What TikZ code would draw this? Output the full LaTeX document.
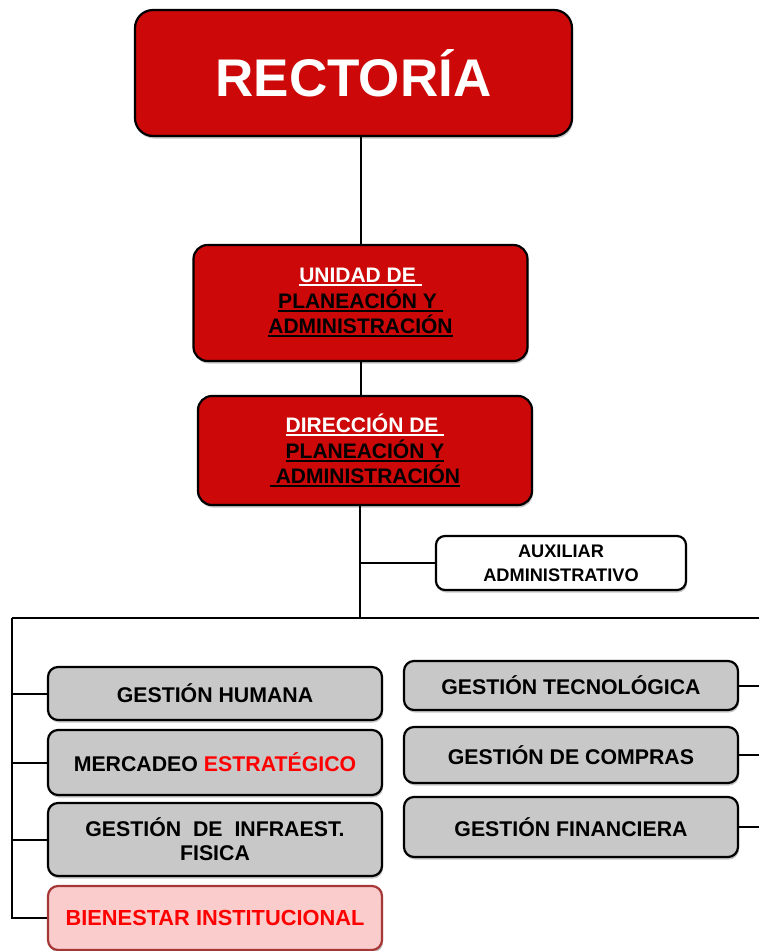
\documentclass[tikz,border=0pt]{standalone}
\usepackage{fontspec}
\setmainfont{Liberation Sans}
\usetikzlibrary{shadows}
\definecolor{rojocaja}{RGB}{204,8,8}
\definecolor{griscaja}{RGB}{200,200,200}
\definecolor{rosacaja}{RGB}{250,204,204}
\definecolor{bordebien}{RGB}{165,55,55}
\definecolor{rojotexto}{RGB}{255,0,0}
% subrayado grueso
\newcommand{\subr}[1]{\setbox0\hbox{#1}\rlap{\rule[-3.5pt]{\wd0}{2pt}}\box0}
\tikzset{
  caja/.style={draw=black, line width=2.2pt, rounded corners=14pt, inner sep=0pt,
    align=center, drop shadow={shadow xshift=1pt, shadow yshift=-2.5pt, opacity=0.45}},
  cajaroja/.style={caja, fill=rojocaja, minimum width=334pt},
  cajagris/.style={caja, fill=griscaja, minimum width=334pt, rounded corners=10pt,
    font=\fontsize{21.3}{24}\selectfont\bfseries},
  linea/.style={line width=2pt}
}
\begin{document}
\begin{tikzpicture}[x=1pt,y=-1pt]
    \useasboundingbox (0,0) rectangle (759,951);
    % Cajas rojas
    \node[cajaroja, minimum width=437pt, minimum height=126pt, rounded corners=18pt,
      text=white, font=\fontsize{53}{60}\selectfont\bfseries] (rect) at (353.5,73) {RECTORÍA};
    \node[cajaroja, minimum height=116pt, font=\fontsize{21}{25.5}\selectfont\bfseries]
      (unidad) at (360.5,303) {\textcolor{white}{\subr{UNIDAD DE }}\\\subr{PLANEACIÓN Y }\\\subr{ADMINISTRACIÓN}};
    \node[cajaroja, minimum height=109pt, font=\fontsize{21}{25.5}\selectfont\bfseries]
      (direccion) at (365,450.5) {\textcolor{white}{\subr{DIRECCIÓN DE }}\\\subr{PLANEACIÓN Y}\\\subr{ ADMINISTRACIÓN}};
    % Auxiliar
    \node[caja, fill=white, minimum width=250pt, minimum height=54pt, rounded corners=9pt,
      font=\fontsize{18.2}{24}\selectfont\bfseries] (auxiliar) at (561,563) {AUXILIAR\\ADMINISTRATIVO};
    % Cajas grises izquierda
    \node[cajagris, minimum height=53pt] (humana) at (215,693.5) {GESTIÓN HUMANA};
    \node[cajagris, minimum height=65pt] (mercadeo) at (215,762.5) {MERCADEO \textcolor{rojotexto}{ESTRATÉGICO}};
    \node[cajagris, minimum height=73pt] (infra) at (215,839.5) {GESTIÓN\ \ DE\ \ INFRAEST.\\FISICA};
    \node[cajagris, fill=rosacaja, draw=bordebien, minimum height=64pt, text=rojotexto,
      font=\fontsize{21.8}{24}\selectfont\bfseries] (bienestar) at (215,918) {BIENESTAR INSTITUCIONAL};
    % Cajas grises derecha
    \node[cajagris, minimum height=49pt] (tecno) at (571,685.5) {GESTIÓN TECNOLÓGICA};
    \node[cajagris, minimum height=56pt] (compras) at (571,755) {GESTIÓN DE COMPRAS};
    \node[cajagris, minimum height=60pt] (financiera) at (571,827) {GESTIÓN FINANCIERA};
    % Lineas
    \coordinate (tronco) at (360,618);
    \coordinate (izq) at (12,618);
    \coordinate (der) at (759,618);
    \draw[linea] (rect.south -| unidad.north) -- (unidad.north);
    \draw[linea] (unidad.south) -- (unidad.south |- direccion.north);
    \draw[linea] (direccion.south -| tronco) -- (tronco);
    \draw[linea] (auxiliar.west) -- (auxiliar.west -| tronco);
    \draw[linea] (izq) -- (der);
    \draw[linea] (izq) |- (bienestar.west);
    \draw[linea] (humana.west) -- (humana.west -| izq);
    \draw[linea] (mercadeo.west) -- (mercadeo.west -| izq);
    \draw[linea] (infra.west) -- (infra.west -| izq);
    \draw[linea] (tecno.east) -- (tecno.east -| der);
    \draw[linea] (compras.east) -- (compras.east -| der);
    \draw[linea] (financiera.east) -- (financiera.east -| der);
\end{tikzpicture}
\end{document}
